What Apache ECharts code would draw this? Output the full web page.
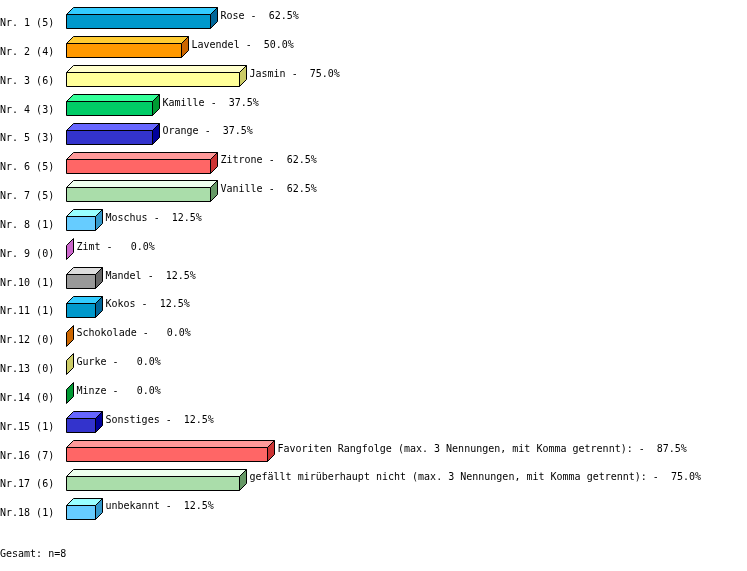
<!DOCTYPE html>
<html>
<head>
<meta charset="utf-8">
<script src="https://cdn.jsdelivr.net/npm/echarts@6/dist/echarts.min.js"></script>
<style>
html,body{margin:0;padding:0;background:#fff;}
#chart{width:747px;height:571px;}
</style>
</head>
<body>
<div id="chart"></div>
<script>
const ranks = [1,2,3,4,5,6,7,8,9,10,11,12,13,14,15,16,17,18];
const counts = [5,4,6,3,3,5,5,1,0,1,1,0,0,0,1,7,6,1];
const names = ['Rose','Lavendel','Jasmin','Kamille','Orange','Zitrone','Vanille','Moschus','Zimt','Mandel','Kokos','Schokolade','Gurke','Minze','Sonstiges','Favoriten Rangfolge (max. 3 Nennungen, mit Komma getrennt):','gefällt mirüberhaupt nicht (max. 3 Nennungen, mit Komma getrennt):','unbekannt'];
const percents = [62.5,50.0,75.0,37.5,37.5,62.5,62.5,12.5,0.0,12.5,12.5,0.0,0.0,0.0,12.5,87.5,75.0,12.5];
const totalLabel = 'Gesamt: n=8';

// palette: [front, top, side]
const palette = [
  ['#0099cc','#33ccff','#006699'],
  ['#ff9900','#ffcc33','#cc6600'],
  ['#ffff99','#ffffcc','#cccc66'],
  ['#00cc66','#33ff99','#009933'],
  ['#3333cc','#6666ff','#000099'],
  ['#ff6666','#ff9999','#cc3333'],
  ['#aaddaa','#eeffee','#669966'],
  ['#66ccff','#99ffff','#3399cc'],
  ['#ff99ff','#ffccff','#cc66cc'],
  ['#999999','#dddddd','#666666']
];

const catLabels = ranks.map((r,i)=>'Nr.' + String(r).padStart(2,' ') + ' (' + counts[i] + ')');
const FONT = '10px "DejaVu Sans Mono", "Liberation Mono", monospace';

const chart = echarts.init(document.getElementById('chart'), null, {renderer:'canvas'});
const data = percents.map((v,i)=>[v,i]);

chart.setOption({
  backgroundColor:'#ffffff',
  animation:false,
  grid:{left:66, top:7, width:230, bottom:45, containLabel:false},
  xAxis:{type:'value', min:0, max:100, show:false},
  yAxis:{type:'category', data:catLabels, inverse:true, show:false},
  graphic:[{type:'text', left:0, top:549, style:{text:totalLabel, font:FONT, fill:'#000'}}],
  series:[{
    type:'custom',
    data:data,
    encode:{x:0, y:1},
    renderItem:function(params, api){
      const v = api.value(0), i = api.value(1);
      const p0 = api.coord([0, i]);
      const p1 = api.coord([v, i]);
      const col = palette[i % palette.length];
      const fh = 14, d = 7;
      const x0 = Math.round(p0[0]) + 0.5;
      const x1 = Math.round(p1[0]) + 0.5;
      const cy = p0[1];
      const yt = Math.round(cy - fh/2) + 0.5;
      const yb = yt + fh;
      const stroke = {stroke:'#000', lineWidth:1};
      const children = [];
      if (x1 > x0) {
        children.push({type:'polygon', shape:{points:[[x0,yt],[x0+d,yt-d],[x1+d,yt-d],[x1,yt]]}, style:Object.assign({fill:col[1]},stroke)});
        children.push({type:'rect', shape:{x:x0,y:yt,width:x1-x0,height:fh}, style:Object.assign({fill:col[0]},stroke)});
      }
      children.push({type:'polygon', shape:{points:[[x1,yt],[x1+d,yt-d],[x1+d,yb-d],[x1,yb]]}, style:Object.assign({fill:col[2]},stroke)});
      const pctStr = percents[i].toFixed(1).padStart(5,' ') + '%';
      children.push({type:'text', style:{text:names[i] + ' - ' + pctStr, x:x1 + d + 3, y:cy - 5, font:FONT, fill:'#000', verticalAlign:'middle', align:'left'}});
      children.push({type:'text', style:{text:catLabels[i], x:0, y:cy + 2, font:FONT, fill:'#000', verticalAlign:'middle', align:'left'}});
      return {type:'group', children:children};
    }
  }]
});
</script>
</body>
</html>
